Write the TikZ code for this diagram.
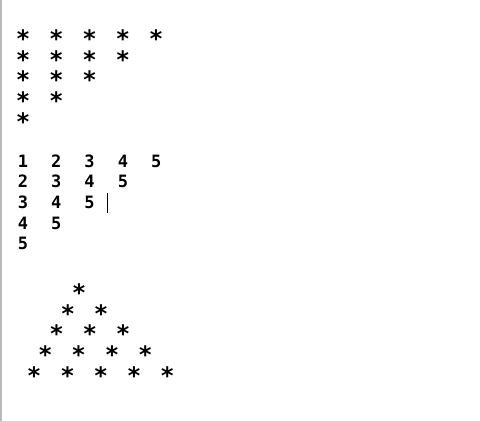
\documentclass[tikz,border=0pt]{standalone}
\usepackage{fontspec}
\setmonofont{DejaVu Sans Mono}

\begin{document}
\begin{tikzpicture}[x=1pt, y=-1pt,
		glyph/.style={font=\ttfamily\bfseries\fontsize{17}{17}\selectfont, inner sep=0pt, anchor=base},
		star/.style={glyph, font=\ttfamily\bfseries\fontsize{24}{24}\selectfont}]
			\useasboundingbox (0,0) rectangle (480,421);
			\fill[white] (0,0) rectangle (480,421);
			% left edge of the editor
			\draw[gray!55, line width=1.5pt] (1.2,0) -- (1.2,421);
			% right-angled block of stars
			\foreach \r in {1,...,5}{
				\pgfmathtruncatemacro{\last}{6-\r}
				\foreach \c in {1,...,\last}
					\node[star] (star-\r-\c) at ({23+33.3*(\c-1)}, {47.5+20.7*(\r-1)}) {*};
			}
			% block of numbers
			\foreach \r in {1,...,5}{
				\pgfmathtruncatemacro{\last}{6-\r}
				\foreach \c in {1,...,\last}{
					\pgfmathtruncatemacro{\digit}{\r+\c-1}
					\node[glyph] (num-\r-\c) at ({23+33.3*(\c-1)}, {167+20.7*(\r-1)}) {\digit};
				}
			}
			% text cursor
			\coordinate (caret-top) at (107,193);
			\coordinate (caret-bot) at (107,213);
			\draw[black, line width=0.8pt] (caret-top) -- (caret-bot);
			% pyramid of stars
			\foreach \r in {1,...,5}
				\foreach \c in {1,...,\r}
					\node[star] (peak-\r-\c) at ({79-11.2*(\r-1)+33.3*(\c-1)}, {301.5+20.7*(\r-1)}) {*};
		\end{tikzpicture}
\end{document}
